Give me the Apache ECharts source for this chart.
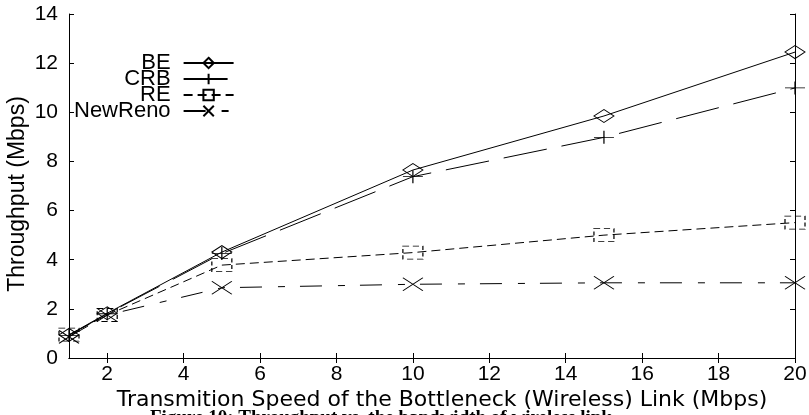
<!DOCTYPE html>
<html>
<head>
<meta charset="utf-8">
<script src="https://cdn.jsdelivr.net/npm/echarts@6/dist/echarts.min.js"></script>
<style>html,body{margin:0;padding:0;background:#fff;}#c{width:809px;height:415px;}</style>
</head>
<body>
<div id="c"></div>
<script>
var xValues = [1, 2, 5, 10, 15, 20];
var seriesNames = ['BE', 'CRB', 'RE', 'NewReno'];
var beValues = [0.94, 1.82, 4.31, 7.65, 9.85, 12.45];
var crbValues = [0.92, 1.80, 4.25, 7.38, 8.98, 10.99];
var reValues = [0.95, 1.75, 3.78, 4.29, 5.0, 5.51];
var newRenoValues = [0.86, 1.75, 2.86, 3.0, 3.06, 3.06];
var xTickValues = [2, 4, 6, 8, 10, 12, 14, 16, 18, 20];
var captionText = 'Figure 10: Throughput vs. the bandwidth of wireless link';

function pairs(vals) { return xValues.map(function (x, i) { return [x, vals[i]]; }); }

var FONT = 'Liberation Sans';
var chart = echarts.init(document.getElementById('c'));
var symbolStyle = { color: 'rgba(0,0,0,0)', borderColor: '#000', borderWidth: 1 };

function mk(name, vals, symbol, dash, symStyleExtra) {
  var st = Object.assign({}, symbolStyle, symStyleExtra || {});
  return {
    name: name, type: 'line', data: pairs(vals),
    symbol: symbol, symbolSize: [20, 13], symbolKeepAspect: false,
    showAllSymbol: true,
    lineStyle: { color: '#000', width: 1, type: dash },
    itemStyle: st,
    emphasis: { disabled: true },
    animation: false, z: 3
  };
}

var option = {
  animation: false,
  backgroundColor: '#fff',
  title: {
    text: captionText, left: 145, top: 404,
    textStyle: { fontFamily: 'Liberation Serif', fontWeight: 'bold', fontSize: 19, color: '#000' }
  },
  grid: { left: 69, right: 14, top: 14, bottom: 57, show: false, containLabel: false, outerBoundsMode: 'none' },
  legend: {
    orient: 'vertical', align: 'right', left: 69, top: 47,
    itemWidth: 50, itemHeight: 13, itemGap: -6,
    textStyle: { fontFamily: FONT, fontSize: 22, color: '#000', lineHeight: 16, padding: [0, 8, 0, 0] },
    data: seriesNames
  },
  xAxis: [{
    type: 'value', min: 1, max: 20,
    name: 'Transmition Speed of the Bottleneck (Wireless) Link (Mbps)',
    nameLocation: 'middle', nameGap: 31, nameMoveOverlap: false,
    nameTextStyle: { fontFamily: 'DejaVu Sans', fontSize: 22, color: '#000', padding: [0, 0, 0, 20] },
    axisLine: { lineStyle: { color: '#000', width: 1 } },
    axisTick: { inside: true, length: 5, customValues: xTickValues, lineStyle: { color: '#000' } },
    axisLabel: { customValues: xTickValues, fontFamily: FONT, fontSize: 21, color: '#000', margin: 6 },
    splitLine: { show: false }
  }, {
    type: 'value', min: 1, max: 20, position: 'top',
    axisLine: { lineStyle: { color: '#000', width: 1 } },
    axisTick: { inside: true, length: 5, customValues: xTickValues, lineStyle: { color: '#000' } },
    axisLabel: { show: false }, splitLine: { show: false }
  }],
  yAxis: [{
    type: 'value', min: 0, max: 14, interval: 2,
    name: 'Throughput (Mbps)', nameLocation: 'middle', nameGap: 40, nameMoveOverlap: false,
    nameTextStyle: { fontFamily: FONT, fontSize: 23, color: '#000', padding: [0, 16, 0, 0] },
    axisLine: { show: true, lineStyle: { color: '#000', width: 1 } },
    axisTick: { show: true, inside: true, length: 5, lineStyle: { color: '#000' } },
    axisLabel: { fontFamily: FONT, fontSize: 21, color: '#000', margin: 11 },
    splitLine: { show: false }
  }, {
    type: 'value', min: 0, max: 14, interval: 2, position: 'right',
    axisLine: { show: true, lineStyle: { color: '#000', width: 1 } },
    axisTick: { show: true, inside: true, length: 5, lineStyle: { color: '#000' } },
    axisLabel: { show: false }, splitLine: { show: false }
  }],
  series: [
    mk('BE', beValues, 'diamond', 'solid'),
    mk('CRB', crbValues, 'path://M1,0L1,2M0,1L2,1', [44, 15]),
    mk('RE', reValues, 'rect', [9, 5], { borderType: [5, 3] }),
    mk('NewReno', newRenoValues, 'path://M0,0L2,2M0,2L2,0', [22, 16, 7, 15])
  ]
};
chart.setOption(option);
</script>
</body>
</html>
